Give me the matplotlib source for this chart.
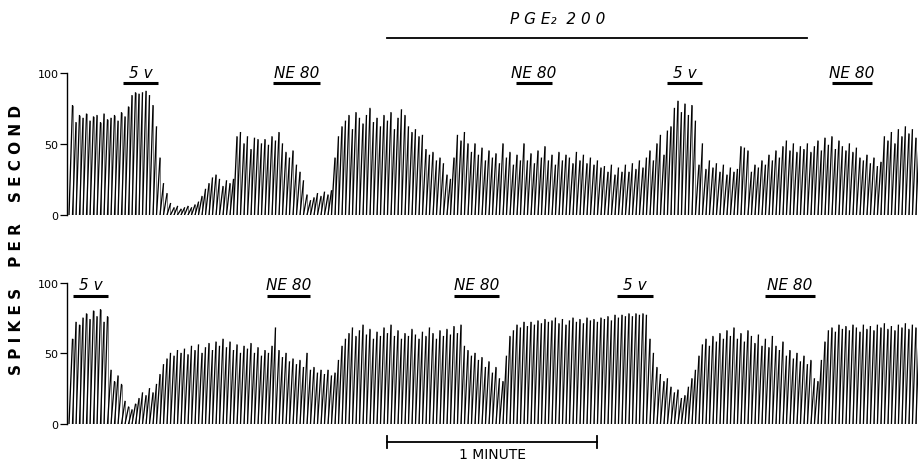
import numpy as np
import matplotlib
matplotlib.use("Agg")
import matplotlib.pyplot as plt

# peak spike count of each 1-second ratemeter sweep (spikes per second)
upper_peaks = [
    77, 65, 70, 68, 71, 66, 69, 70, 65, 71, 67, 68, 70, 66, 72, 69,
    76, 84, 86, 85, 86, 87, 84, 77, 62, 40, 22, 15,
    8, 5, 6, 4, 5, 6, 5, 7,
    9, 13, 18, 22, 26, 28, 25, 20, 24, 22, 25,
    55, 58, 50, 55, 46, 54, 53, 50, 53, 49, 55, 52, 58,
    50, 44, 40, 45, 35, 30, 24,
    14, 10, 12, 15, 13, 16, 14, 17,
    40, 55, 62,
    66, 70, 60, 72, 68, 64, 70, 75, 65, 68, 62, 70, 66, 72, 60, 68, 74, 70, 62, 58, 60, 55, 56,
    46, 42, 44, 38, 40, 36,
    28, 25,
    40, 56, 52, 58, 50,
    44, 50, 42, 47, 38, 45, 40, 43, 36, 50, 40, 44, 35, 42, 38, 50, 38, 43, 36, 45,
    40, 48, 38, 42, 35, 44, 38, 42, 40, 36, 44, 38, 42, 36, 40, 35, 38, 33, 34, 30,
    35, 28, 33, 30,
    35, 30, 36, 32, 38, 33,
    40, 45, 38, 50, 56, 42, 59,
    62, 75, 80, 72, 78, 70, 77, 66,
    35, 50, 32,
    38, 33, 36, 30, 35, 28, 33, 30, 32,
    48, 47, 45,
    30, 35, 33, 38, 35, 42, 38, 45, 40, 48,
    52, 45, 50, 44, 48, 46, 50, 44, 48, 52, 45, 54, 49, 55, 46, 52, 48, 45, 50, 44, 47,
    40, 38, 42, 36, 40, 34, 37,
    55, 52, 58, 50, 60, 55, 62, 57, 60, 54, 58,
]

lower_peaks = [
    60, 72, 70, 75, 78, 74, 80, 76, 81, 72, 76,
    38, 30, 34, 28,
    16, 12, 10, 14,
    18, 22, 20, 25, 22, 28,
    35, 42, 46, 50, 48, 52,
    50, 53, 49, 55, 52, 56, 50, 54, 57, 52, 58, 55, 60, 54, 58, 52, 56, 50, 55, 53,
    57, 50, 54, 48, 52, 50,
    55, 68,
    52, 47, 50, 44, 46, 42, 45, 40, 50, 38, 40, 36, 38,
    35, 38, 34, 36,
    45, 55,
    60, 64, 68, 62, 66, 70, 63, 67, 60, 65, 62, 68, 64, 70, 62, 66, 60, 64, 62, 67,
    63, 60, 65, 62, 68, 64, 60, 66, 62, 67, 63, 69, 64, 70,
    55, 52, 48, 50, 45, 47, 40, 44, 36, 40, 32, 30,
    48, 62, 66, 70, 68, 72, 69, 72, 70, 73, 71, 74, 72, 73, 75, 71, 74, 70, 73, 75,
    72, 74, 71, 75, 73, 74, 72, 75,
    74, 76, 73, 77, 75, 77, 76, 78, 76, 78, 77, 78, 77,
    60, 50,
    40, 35, 30, 32, 26, 22, 24, 18, 20,
    26, 32, 38,
    48, 56, 60, 55, 62, 58, 64, 60, 66, 62, 68, 60, 64, 58, 66, 62, 57, 63, 55, 60,
    54, 62, 55,
    52, 58, 48, 52, 46, 50, 44, 48, 42, 45,
    32, 30,
    45, 58, 66,
    68, 65, 70, 67, 69, 66, 70, 68, 65, 70, 67, 69, 66, 70, 68, 71, 67, 69, 66, 70,
    68, 71, 67, 70, 68, 69,
]

# stimulus periods in seconds from start of each trace
upper_stim_labels = ["5 v", "NE 80", "NE 80", "5 v", "NE 80"]
upper_stim_start = [15.4, 58.3, 127.7, 170.9, 218.0]
upper_stim_end = [25.4, 71.7, 138.0, 180.9, 229.4]

lower_stim_labels = ["5 v", "NE 80", "NE 80", "5 v", "NE 80"]
lower_stim_start = [1.1, 56.6, 110.0, 156.6, 198.9]
lower_stim_end = [11.1, 68.9, 123.0, 166.9, 213.1]

pge_start, pge_end = 90.9, 210.9
yticks = [0, 50, 100]


def draw_trace(ax, peaks):
    peaks = np.asarray(peaks, dtype=float)
    t = np.arange(len(peaks))
    nan = np.full(len(t), np.nan)
    zero = np.zeros(len(t))
    # slow ramp of the integrator over each second
    rx = np.column_stack([t, t + 1, nan]).ravel()
    ry = np.column_stack([zero, peaks, nan]).ravel()
    # fast reset at the end of each second
    dx = np.column_stack([t + 1, t + 1, nan]).ravel()
    dy = np.column_stack([peaks, zero, nan]).ravel()
    ax.plot(dx, dy, color="#666666", lw=0.6)
    ax.plot(rx, ry, color="black", lw=0.95)


def style_axis(ax):
    ax.set_xlim(-0.57, 242.6)
    ax.set_ylim(0, 100)
    for side in ["top", "right", "bottom"]:
        ax.spines[side].set_visible(False)
    ax.spines["left"].set_linewidth(1.0)
    ax.set_xticks([])
    ax.set_yticks(yticks)
    ax.set_yticklabels([str(v) for v in yticks])
    ax.tick_params(axis="y", direction="out", length=5, width=0.9,
                   labelsize=8, pad=1)


def mark_stimuli(ax, labels, starts, ends, bar_y, text_y):
    for lab, s, e in zip(labels, starts, ends):
        ax.plot([s, e], [bar_y, bar_y], color="black", lw=2.2,
                solid_capstyle="butt", clip_on=False)
        ax.text((s + e) / 2, text_y, lab, ha="center", va="baseline",
                fontsize=11, style="italic", clip_on=False)


fig = plt.figure(figsize=(9.18, 4.64), dpi=100)
ax_top = fig.add_axes([0.073, 0.5345, 0.927, 0.306])
ax_bot = fig.add_axes([0.073, 0.084, 0.927, 0.304])

draw_trace(ax_top, upper_peaks)
draw_trace(ax_bot, lower_peaks)
style_axis(ax_top)
style_axis(ax_bot)

mark_stimuli(ax_top, upper_stim_labels, upper_stim_start, upper_stim_end, 93, 97)
mark_stimuli(ax_bot, lower_stim_labels, lower_stim_start, lower_stim_end, 90.8, 95.5)

# PGE2 application bar
ax_top.plot([pge_start, pge_end], [125, 125], color="black", lw=1.3, clip_on=False)
ax_top.text(139.5, 135, "P G E\u2082  2 0 0", ha="center", va="baseline",
            fontsize=11, style="italic", clip_on=False)

# one minute time scale
ax_bot.plot([pge_start, pge_start + 60], [-12.5, -12.5], color="black", lw=1.3, clip_on=False)
for xe in [pge_start, pge_start + 60]:
    ax_bot.plot([xe, xe], [-8.5, -17.0], color="black", lw=1.3, clip_on=False)
ax_bot.text(pge_start + 30, -16.5, "1 MINUTE", ha="center", va="top",
            fontsize=10, clip_on=False)

fig.text(0.018, 0.483, "S P I K E S    P E R    S E C O N D", rotation=90,
         ha="center", va="center", fontsize=11, fontweight="bold")

fig.savefig("out.png", dpi=100)
